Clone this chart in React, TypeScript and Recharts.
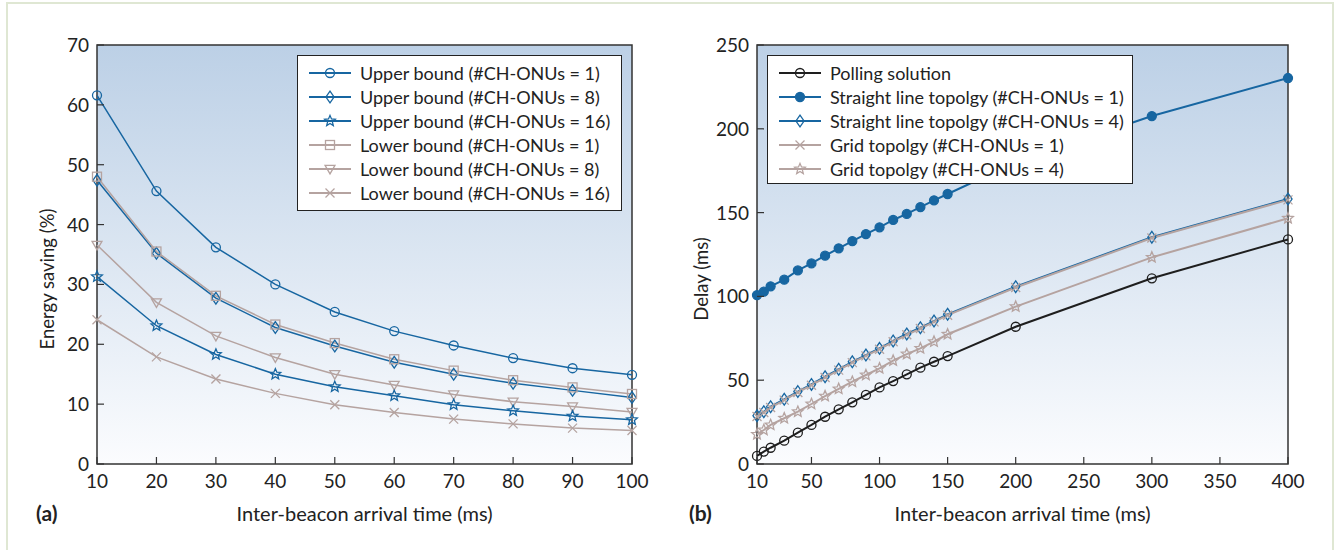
import React from "react";
import { LineChart, Line, XAxis, YAxis, ReferenceArea } from "recharts";

const FONT = "Lato, 'Open Sans', sans-serif";
const BLUE = "#1766a1";
const TAUPE = "#b5a3a0";
const BLACK = "#1e1e1e";
const AXIS = "#333";

// (a) energy saving vs inter-beacon arrival time
const beaconA = [10, 20, 30, 40, 50, 60, 70, 80, 90, 100];
const upper1 = [61.6, 45.6, 36.2, 30.0, 25.4, 22.2, 19.8, 17.7, 16.0, 14.9];
const upper8 = [47.4, 35.2, 27.7, 22.8, 19.7, 17.0, 15.0, 13.5, 12.3, 11.1];
const upper16 = [31.3, 23.1, 18.3, 15.0, 12.9, 11.4, 9.9, 8.9, 8.0, 7.4];
const lower1 = [48.0, 35.5, 28.1, 23.3, 20.2, 17.5, 15.6, 14.0, 12.8, 11.7];
const lower8 = [36.6, 27.0, 21.4, 17.8, 15.0, 13.2, 11.6, 10.4, 9.6, 8.7];
const lower16 = [24.1, 17.9, 14.2, 11.8, 9.9, 8.6, 7.5, 6.7, 6.0, 5.6];
const ticksAX = [10, 20, 30, 40, 50, 60, 70, 80, 90, 100];
const ticksAY = [0, 10, 20, 30, 40, 50, 60, 70];

// (b) delay vs inter-beacon arrival time
const beaconB = [10, 15, 20, 30, 40, 50, 60, 70, 80, 90, 100, 110, 120, 130, 140, 150, 200, 300, 400];
const polling = [4.8, 7.4, 9.7, 13.9, 18.7, 23.3, 28.2, 32.6, 36.8, 41.2, 45.7, 49.5, 53.5, 57.5, 61.0, 64.4, 81.9, 110.8, 134.0];
const straight1 = [100.8, 102.8, 106.0, 110.0, 115.5, 119.7, 124.3, 128.7, 133.0, 137.2, 141.2, 145.6, 149.2, 153.3, 157.3, 161.1, 180.0, 207.6, 230.3];
const straight4 = [28.8, 31.2, 34.2, 38.6, 43.2, 47.5, 52.1, 56.5, 61.0, 65.0, 69.0, 73.4, 77.6, 81.3, 85.3, 89.3, 105.8, 135.3, 158.1];
const grid1 = [28.3, 30.7, 33.7, 38.1, 42.7, 47.0, 51.6, 56.0, 60.5, 64.5, 68.5, 72.9, 77.1, 80.8, 84.8, 88.8, 105.3, 134.8, 157.6];
const grid4 = [17.7, 20.3, 23.3, 27.3, 31.2, 35.8, 40.5, 44.8, 49.1, 53.1, 57.1, 61.7, 65.6, 69.0, 73.0, 77.4, 93.9, 123.3, 146.6];
const ticksBX = [10, 50, 100, 150, 200, 250, 300, 350, 400];
const ticksBY = [0, 50, 100, 150, 200, 250];

const dataA = beaconA.map((x, i) => ({
  x,
  upper1: upper1[i],
  upper8: upper8[i],
  upper16: upper16[i],
  lower1: lower1[i],
  lower8: lower8[i],
  lower16: lower16[i],
}));

const dataB = beaconB.map((x, i) => ({
  x,
  polling: polling[i],
  straight1: straight1[i],
  straight4: straight4[i],
  grid1: grid1[i],
  grid4: grid4[i],
}));

type Shape = "circle" | "dot" | "diamond" | "star" | "square" | "tri" | "cross";

function starPoints(cx: number, cy: number, r: number) {
  const pts: string[] = [];
  for (let i = 0; i < 10; i++) {
    const rad = i % 2 === 0 ? r : r * 0.45;
    const a = -Math.PI / 2 + (i * Math.PI) / 5;
    pts.push(`${cx + rad * Math.cos(a)},${cy + rad * Math.sin(a)}`);
  }
  return pts.join(" ");
}

function Marker({ shape, cx, cy, color, s = 4.5 }: { shape: Shape; cx: number; cy: number; color: string; s?: number }) {
  const sw = 1.3;
  switch (shape) {
    case "circle":
      return <circle cx={cx} cy={cy} r={s} fill="none" stroke={color} strokeWidth={sw} />;
    case "dot":
      return <circle cx={cx} cy={cy} r={s} fill={color} stroke={color} strokeWidth={sw} />;
    case "diamond":
      return (
        <polygon
          points={`${cx},${cy - s * 1.3} ${cx + s * 0.9},${cy} ${cx},${cy + s * 1.3} ${cx - s * 0.9},${cy}`}
          fill="none"
          stroke={color}
          strokeWidth={sw}
        />
      );
    case "star":
      return <polygon points={starPoints(cx, cy, s * 1.25)} fill="none" stroke={color} strokeWidth={sw} />;
    case "square":
      return <rect x={cx - s} y={cy - s} width={s * 2} height={s * 2} fill="none" stroke={color} strokeWidth={sw} />;
    case "tri":
      return (
        <polygon
          points={`${cx - s * 1.1},${cy - s * 0.8} ${cx + s * 1.1},${cy - s * 0.8} ${cx},${cy + s * 1.1}`}
          fill="none"
          stroke={color}
          strokeWidth={sw}
        />
      );
    case "cross":
      return (
        <g stroke={color} strokeWidth={sw}>
          <line x1={cx - s} y1={cy - s} x2={cx + s} y2={cy + s} />
          <line x1={cx - s} y1={cy + s} x2={cx + s} y2={cy - s} />
        </g>
      );
  }
  return null;
}

const makeDot = (shape: Shape, color: string) => (p: any) => {
  if (p.cx == null || p.cy == null) return <g key={p.index} />;
  return (
    <g key={p.index}>
      <Marker shape={shape} cx={p.cx} cy={p.cy} color={color} />
    </g>
  );
};

const XTick = (p: any) => (
  <g>
    <line x1={p.x} y1={p.y} x2={p.x} y2={p.y - 7} stroke={AXIS} strokeWidth={1.2} />
    <text x={p.x} y={p.y + 24} textAnchor="middle" fontSize={19} fill="#222" fontFamily={FONT}>
      {p.payload.value}
    </text>
  </g>
);

const YTick = (p: any) => (
  <g>
    <line x1={p.x} y1={p.y} x2={p.x + 7} y2={p.y} stroke={AXIS} strokeWidth={1.2} />
    <text x={p.x - 8} y={p.y + 7} textAnchor="end" fontSize={19} fill="#222" fontFamily={FONT}>
      {p.payload.value}
    </text>
  </g>
);

type LegendItem = { label: string; shape: Shape; color: string };

const legendA: LegendItem[] = [
  { label: "Upper bound (#CH-ONUs = 1)", shape: "circle", color: BLUE },
  { label: "Upper bound (#CH-ONUs = 8)", shape: "diamond", color: BLUE },
  { label: "Upper bound (#CH-ONUs = 16)", shape: "star", color: BLUE },
  { label: "Lower bound (#CH-ONUs = 1)", shape: "square", color: TAUPE },
  { label: "Lower bound (#CH-ONUs = 8)", shape: "tri", color: TAUPE },
  { label: "Lower bound (#CH-ONUs = 16)", shape: "cross", color: TAUPE },
];

const legendB: LegendItem[] = [
  { label: "Polling solution", shape: "circle", color: BLACK },
  { label: "Straight line topolgy (#CH-ONUs = 1)", shape: "dot", color: BLUE },
  { label: "Straight line topolgy (#CH-ONUs = 4)", shape: "diamond", color: BLUE },
  { label: "Grid topolgy (#CH-ONUs = 1)", shape: "cross", color: TAUPE },
  { label: "Grid topolgy (#CH-ONUs = 4)", shape: "star", color: TAUPE },
];

function LegendBox({ left, top, width, height, items }: { left: number; top: number; width: number; height: number; items: LegendItem[] }) {
  return (
    <div
      style={{
        position: "absolute",
        left,
        top,
        width,
        height,
        background: "#fff",
        border: "1.4px solid #222",
        boxSizing: "border-box",
        paddingTop: 5,
        paddingLeft: 11,
        fontFamily: FONT,
        fontSize: 18,
        color: "#222",
      }}
    >
      {items.map((it) => (
        <div key={it.label} style={{ display: "flex", alignItems: "center", height: 24 }}>
          <svg width={42} height={18} style={{ flex: "none" }}>
            <line x1={0} y1={9} x2={42} y2={9} stroke={it.color} strokeWidth={2} />
            <Marker shape={it.shape} cx={21} cy={9} color={it.color} />
          </svg>
          <span style={{ marginLeft: 9, whiteSpace: "nowrap" }}>{it.label}</span>
        </div>
      ))}
    </div>
  );
}

const textStyle: React.CSSProperties = {
  position: "absolute",
  fontFamily: FONT,
  fontSize: 20,
  color: "#222",
  height: 24,
  lineHeight: "24px",
  whiteSpace: "nowrap",
};

export default function App() {
  return (
    <div style={{ position: "absolute", left: 0, top: 0, width: 1336, height: 550, overflow: "hidden", background: "#fff" }}>
      <svg width={0} height={0} style={{ position: "absolute" }}>
        <defs>
          <linearGradient id="plotBg" x1="0" y1="0" x2="0" y2="1">
            <stop offset="0%" stopColor="#bcd0e6" />
            <stop offset="100%" stopColor="#fbfcfe" />
          </linearGradient>
        </defs>
      </svg>
      <div
        style={{
          position: "absolute",
          left: 6,
          top: 2,
          width: 1328,
          height: 600,
          border: "2px solid #dfe7d3",
          boxSizing: "border-box",
        }}
      />

      <div style={{ position: "absolute", left: 0, top: 0 }}>
        <LineChart width={668} height={550} data={dataA} margin={{ top: 45, right: 36, left: 37, bottom: 56 }}>
          <XAxis
            dataKey="x"
            type="number"
            domain={[10, 100]}
            ticks={ticksAX}
            interval={0}
            axisLine={false}
            tickLine={false}
            tickSize={0}
            tickMargin={0}
            tick={XTick}
            height={30}
          />
          <YAxis
            type="number"
            domain={[0, 70]}
            ticks={ticksAY}
            interval={0}
            axisLine={false}
            tickLine={false}
            tickSize={0}
            tickMargin={0}
            tick={YTick}
            width={60}
          />
          <ReferenceArea x1={10} x2={100} y1={0} y2={70} fill="url(#plotBg)" fillOpacity={1} stroke={AXIS} strokeWidth={1.5} ifOverflow="visible" />
          <Line dataKey="lower16" stroke={TAUPE} strokeWidth={1.5} dot={makeDot("cross", TAUPE)} isAnimationActive={false} />
          <Line dataKey="lower8" stroke={TAUPE} strokeWidth={1.5} dot={makeDot("tri", TAUPE)} isAnimationActive={false} />
          <Line dataKey="upper16" stroke={BLUE} strokeWidth={1.5} dot={makeDot("star", BLUE)} isAnimationActive={false} />
          <Line dataKey="upper8" stroke={BLUE} strokeWidth={1.5} dot={makeDot("diamond", BLUE)} isAnimationActive={false} />
          <Line dataKey="lower1" stroke={TAUPE} strokeWidth={1.5} dot={makeDot("square", TAUPE)} isAnimationActive={false} />
          <Line dataKey="upper1" stroke={BLUE} strokeWidth={1.5} dot={makeDot("circle", BLUE)} isAnimationActive={false} />
        </LineChart>
      </div>

      <div style={{ position: "absolute", left: 668, top: 0 }}>
        <LineChart width={668} height={550} data={dataB} margin={{ top: 45, right: 48, left: 29, bottom: 56 }}>
          <XAxis
            dataKey="x"
            type="number"
            domain={[10, 400]}
            ticks={ticksBX}
            interval={0}
            axisLine={false}
            tickLine={false}
            tickSize={0}
            tickMargin={0}
            tick={XTick}
            height={30}
          />
          <YAxis
            type="number"
            domain={[0, 250]}
            ticks={ticksBY}
            interval={0}
            axisLine={false}
            tickLine={false}
            tickSize={0}
            tickMargin={0}
            tick={YTick}
            width={60}
          />
          <ReferenceArea x1={10} x2={400} y1={0} y2={250} fill="url(#plotBg)" fillOpacity={1} stroke={AXIS} strokeWidth={1.5} ifOverflow="visible" />
          <Line dataKey="polling" stroke={BLACK} strokeWidth={2} dot={makeDot("circle", BLACK)} isAnimationActive={false} />
          <Line dataKey="grid4" stroke={TAUPE} strokeWidth={2} dot={makeDot("star", TAUPE)} isAnimationActive={false} />
          <Line dataKey="straight4" stroke={BLUE} strokeWidth={2} dot={makeDot("diamond", BLUE)} isAnimationActive={false} />
          <Line dataKey="grid1" stroke={TAUPE} strokeWidth={2} dot={makeDot("cross", TAUPE)} isAnimationActive={false} />
          <Line dataKey="straight1" stroke={BLUE} strokeWidth={2} dot={makeDot("dot", BLUE)} isAnimationActive={false} />
        </LineChart>
      </div>

      <LegendBox left={297} top={55} width={325} height={156} items={legendA} />
      <LegendBox left={767} top={55} width={366} height={129} items={legendB} />

      <div style={{ ...textStyle, left: 97, top: 501, width: 535, textAlign: "center" }}>Inter-beacon arrival time (ms)</div>
      <div style={{ ...textStyle, left: 757, top: 501, width: 531, textAlign: "center" }}>Inter-beacon arrival time (ms)</div>
      <div style={{ ...textStyle, left: 36, top: 501, fontWeight: 700, fontSize: 21 }}>(a)</div>
      <div style={{ ...textStyle, left: 689, top: 501, fontWeight: 700, fontSize: 21 }}>(b)</div>
      <div style={{ ...textStyle, fontSize: 18.5, left: -53, top: 267, width: 200, textAlign: "center", transform: "rotate(-90deg)" }}>
        Energy saving (%)
      </div>
      <div style={{ ...textStyle, fontSize: 18.5, left: 601, top: 267, width: 200, textAlign: "center", transform: "rotate(-90deg)" }}>
        Delay (ms)
      </div>
    </div>
  );
}
